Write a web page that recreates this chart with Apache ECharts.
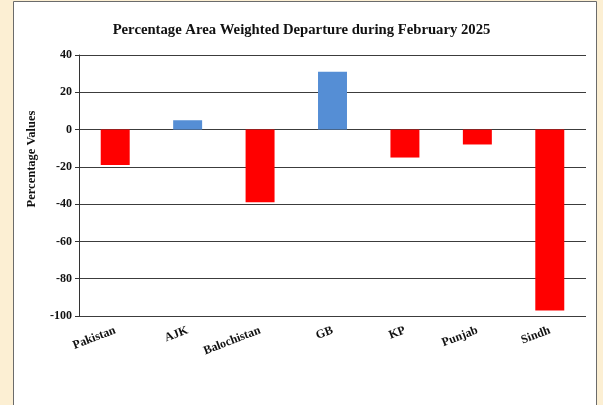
<!DOCTYPE html>
<html>
<head>
<meta charset="utf-8">
<style>
  html, body { margin: 0; padding: 0; background: #FCEFD3; }
  #chart { width: 603px; height: 405px; }
</style>
<script src="https://cdn.jsdelivr.net/npm/echarts@6/dist/echarts.min.js"></script>
</head>
<body>
<div id="chart"></div>
<script>
// Provinces / regions along the x axis
const categories = ['Pakistan', 'AJK', 'Balochistan', 'GB', 'KP', 'Punjab', 'Sindh'];
// Percentage area weighted rainfall departure, February 2025
const departures = [-19, 5, -39, 31, -15, -8, -97];
// Y-axis range and step
const yMin = -100;
const yMax = 40;
const yStep = 20;

const SERIF = '"Liberation Serif", "DejaVu Serif", "Times New Roman", serif';
const chart = echarts.init(document.getElementById('chart'));

chart.setOption({
  backgroundColor: '#FCEFD3',
  animation: false,
  graphic: [
    {
      type: 'rect',
      shape: { x: 13.5, y: 1.5, width: 583, height: 410 },
      style: { fill: '#ffffff', stroke: '#6b6b6b', lineWidth: 1 },
      z: -10
    },
    {
      type: 'text',
      x: 32,
      y: 159,
      rotation: Math.PI / 2,
      style: {
        text: 'Percentage Values',
        font: 'bold 12.5px ' + SERIF,
        fill: '#111',
        align: 'center',
        verticalAlign: 'middle'
      }
    }
  ],
  title: {
    text: 'Percentage Area Weighted Departure during February 2025',
    left: 'center',
    top: 18,
    textStyle: { fontFamily: SERIF, fontWeight: 'bold', fontSize: 14.7, color: '#111' }
  },
  grid: { left: 79, right: 17, top: 55, bottom: 89, containLabel: false },
  xAxis: {
    type: 'category',
    data: categories,
    position: 'bottom',
    axisLine: { show: false, onZero: false },
    axisTick: { show: false },
    axisLabel: {
      rotate: 21,
      margin: 14,
      fontFamily: SERIF,
      fontWeight: 'bold',
      fontSize: 12,
      color: '#111'
    }
  },
  yAxis: {
    type: 'value',
    min: yMin,
    max: yMax,
    interval: yStep,
    axisLine: { show: true, lineStyle: { color: '#333', width: 1 } },
    axisTick: { show: true, length: 4, lineStyle: { color: '#333' } },
    axisLabel: {
      margin: 7,
      fontFamily: SERIF,
      fontWeight: 'bold',
      fontSize: 12,
      color: '#111'
    },
    splitLine: { show: true, lineStyle: { color: '#3c3c3c', width: 1 } }
  },
  series: [
    {
      type: 'bar',
      data: departures.map(v => ({
        value: v,
        itemStyle: { color: v >= 0 ? '#558ED5' : '#FF0000' }
      })),
      barWidth: '40%'
    }
  ]
});
</script>
</body>
</html>
